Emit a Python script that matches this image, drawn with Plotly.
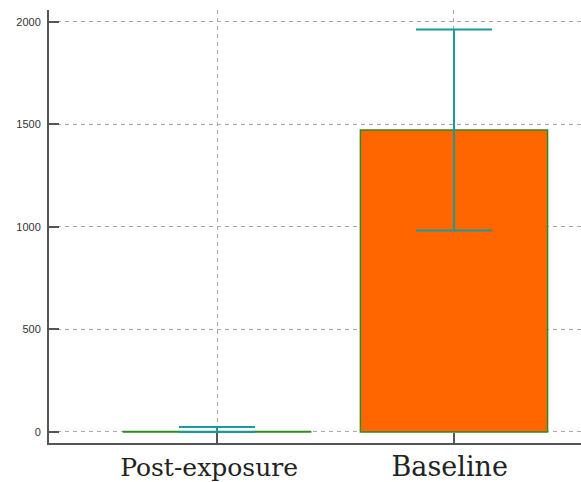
import plotly.graph_objects as go

# Bar chart data
categories = ["Post-exposure", "Baseline"]
means = [3, 1473]
err_plus = [21, 490]
err_minus = [3, 490]

# trailing non-breaking spaces nudge the labels slightly left of their ticks
tick_text = [
    categories[0] + "\u00a0\u00a0",
    '<span style="font-size:27px">' + categories[1] + "\u00a0</span>",
]

fig = go.Figure()
fig.add_trace(go.Bar(
    x=[0, 1],
    y=means,
    width=0.79,
    marker=dict(color="#ff6600", line=dict(color="#2e8b20", width=1.5)),
    error_y=dict(type="data", array=err_plus, arrayminus=err_minus, visible=True,
                 color="#1a9a9a", thickness=2, width=38),
))

fig.update_layout(
    width=581, height=482,
    margin=dict(l=49, r=0, t=10, b=39),
    paper_bgcolor="white", plot_bgcolor="white",
    showlegend=False,
    xaxis=dict(
        range=[-0.709, 1.536],
        tickmode="array", tickvals=[0, 1], ticktext=tick_text,
        tickfont=dict(family="DejaVu Serif", size=25, color="#222"),
        ticks="inside", ticklen=10, tickwidth=1.5, tickcolor="#555",
        showline=True, linecolor="#555", linewidth=2,
        showgrid=True, gridcolor="#aaa", griddash="4px,4px", gridwidth=1,
        zeroline=False,
        ticklabelstandoff=1,
    ),
    yaxis=dict(
        range=[-53.7, 2058.5],
        tickvals=[0, 500, 1000, 1500, 2000],
        tickfont=dict(family="Liberation Sans", size=11, color="#333"),
        ticks="inside", ticklen=10, tickwidth=1.5, tickcolor="#555",
        showline=True, linecolor="#555", linewidth=2,
        showgrid=True, gridcolor="#aaa", griddash="4px,4px", gridwidth=1,
        zeroline=False,
        ticklabelstandoff=4,
    ),
)

fig.write_html("out.html")
